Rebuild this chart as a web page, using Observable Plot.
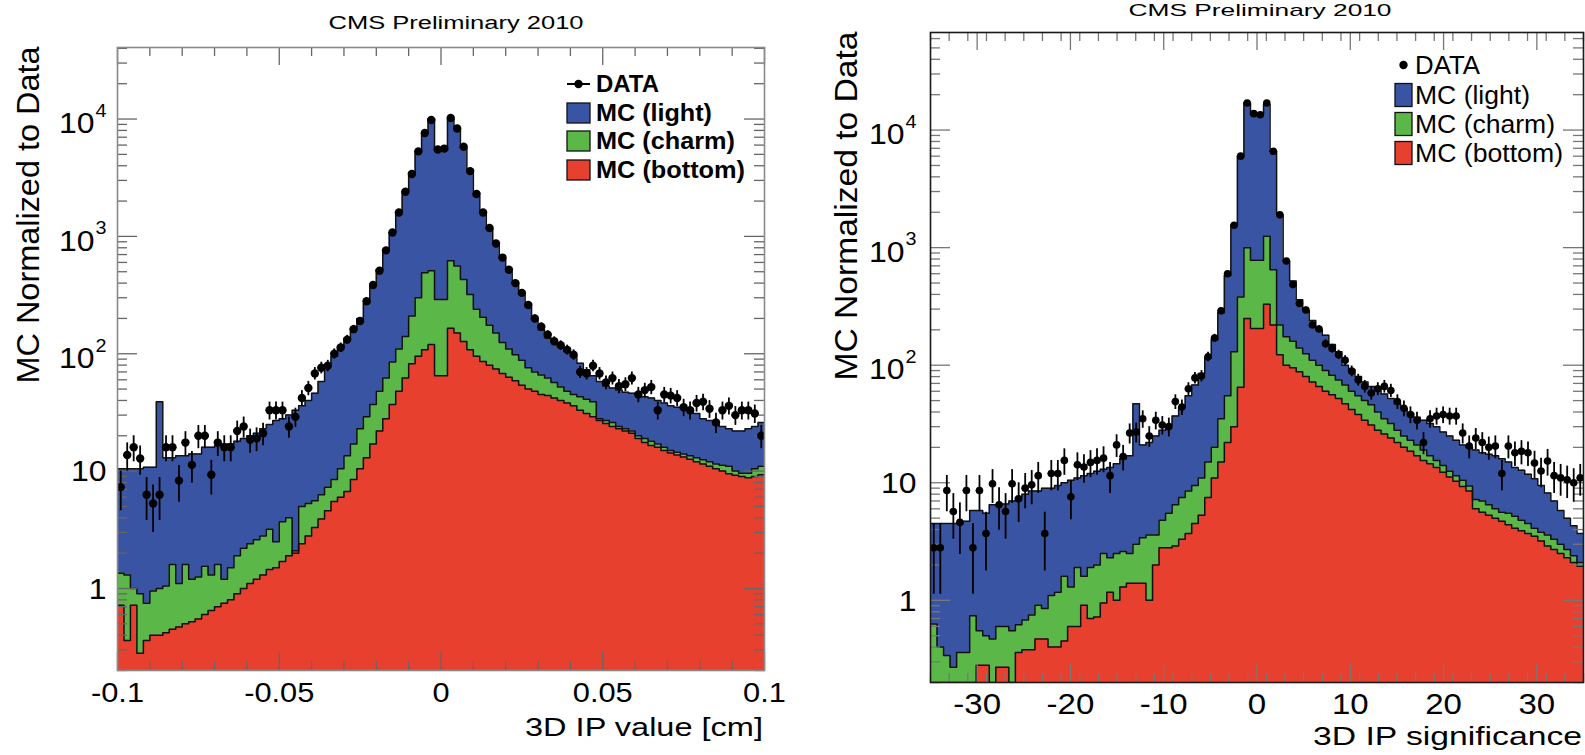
<!DOCTYPE html>
<html><head><meta charset="utf-8">
<script src="https://cdn.jsdelivr.net/npm/d3@7"></script>
<script src="https://cdn.jsdelivr.net/npm/@observablehq/plot@0.6"></script>
<style>
html,body{margin:0;padding:0;background:#fff;}
#root{position:relative;width:1585px;height:755px;overflow:hidden;font-family:"Liberation Sans",Arial,sans-serif;background:#fff;}
#root svg{position:absolute;top:0;}
</style></head><body><div id="root"></div>
<script>
// ---------- LEFT PANEL: 3D IP value [cm], 100 bins in [-0.1, 0.1] ----------
const leftRange = [-0.1, 0.1];
const leftBottom = [0.72,0.36,0.72,0.28,0.36,0.4,0.4,0.42,0.45,0.47,0.5,0.52,0.55,0.6,0.65,0.7,0.75,0.8,0.9,1.0,1.1,1.2,1.3,1.45,1.5,1.7,1.9,2.1,2.4,2.8,3.3,3.9,4.6,5.5,6.0,6.7,8.5,10.5,13,17,22,28,37,48,62,82,95,108,120,65,
65,165,150,127,108,95,86,80,74,68,63,59,54,50,48,45,44,42,40,38,36,33,31,29,27,25.5,24,23,22,21,19,17.5,16.5,16,15,14.3,13.7,13.2,12.6,12,11.5,11,10.5,10,9.5,9.2,9,8.8,9,9.3];
const leftCharm = [1.35,1.3,1.0,0.9,0.75,0.95,1.0,1.05,1.6,1.1,1.6,1.2,1.25,1.55,1.3,1.6,1.2,1.5,1.9,2.2,2.4,2.6,2.8,3.2,2.5,3.7,4.0,2.0,5.0,5.3,5.6,6.3,7.3,8.5,10.5,13.5,17,23,29,37,48,62,85,110,140,210,300,490,510,290,
290,620,560,430,320,240,205,175,150,125,110,98,88,76,70,66,62,57,52,48,45,43,41,39,28,27,26,24,23,22,20,19,18,17,16,15,14.5,14,13.5,13,12.5,12,11.5,11.2,11,10,9.6,9.6,10.5,11];
const leftLight = [10.5,10.5,10.5,10.5,10.8,10.8,39,13,13,13.5,13.5,14,14,16,16,16.5,17,17,18,19,20,21,23,25,27,28,30,33,36,40,46,58,78,95,115,135,165,200,270,380,520,750,1080,1600,2400,3500,5300,7600,10000,5400,
5400,10000,8200,5700,3700,2200,1600,1170,880,650,500,400,320,250,195,160,137,125,115,105,95,83,73,65,58,53,51,49,47,46,45,43,42,40,38,36,35,34,33,31,28,27,25,24,23,22,22,23,24,26];
const leftData = [7.3,13.7,16,12.8,6.3,5.3,6.3,16,16,8.3,17.5,11.3,20,20,9.3,17.5,16,16,22,24,18.5,19,21,33,33,33,24,29,42,51,68,76,79,100,113,132,162,190,280,385,510,760,1080,1600,2400,3400,5300,7600,9800,5500,
5600,10200,8300,5800,3600,2300,1600,1180,870,660,520,400,330,260,200,170,145,128,118,108,98,70,68,79,68,57,62,53,55,62,45,49,52,33,45,44,42,35,33,38,39,34,26,33,36,30,33,33,31,20];
const leftXTicks = [-0.1, -0.05, 0, 0.05, 0.1];
const leftXTickLabels = ["-0.1", "-0.05", "0", "0.05", "0.1"];

// ---------- RIGHT PANEL: 3D IP significance, 100 bins in [-35, 35] ----------
const rightRange = [-35, 35];
const rightBottom = [0.1,0.1,0.1,0.1,0.1,0.1,0.1,0.28,0.28,0.1,0.27,0.27,0.1,0.36,0.38,0.38,0.47,0.47,0.4,0.4,0.45,0.6,0.6,0.91,0.7,0.72,0.95,1.17,1.0,1.3,1.4,1.4,1.4,1.0,2.0,2.8,2.8,2.9,3.3,3.7,4.5,5.3,7.5,11,15,22,30,65,250,205,
205,330,220,123,100,95,88,80,72,66,60,56,52,47,42,38,34,31,28,26,24,22,20,18.5,17,15.5,14.5,13.5,12.3,11.2,10.3,9.3,8.5,6,5.6,5.3,5,4.7,4.4,4.1,3.9,3.7,3.5,3.2,2.9,2.7,2.5,2.3,2.1,1.95];
const rightCharm = [0.63,0.40,0.34,0.27,0.36,0.36,0.74,0.55,0.5,0.47,0.6,0.6,0.55,0.62,0.68,0.75,0.91,0.85,1.1,1.17,1.6,1.3,1.9,1.6,1.9,2.0,2.5,2.3,2.5,2.6,2.5,3.0,3.4,3.6,3.6,4.8,5.5,6.5,7.5,8.5,9.5,11,15,20,35,55,130,380,1000,780,
780,1250,650,220,175,160,140,125,110,100,90,82,75,68,60,55,50,46,40,35,32,28,25,23,21,19,17,15.5,14,12.5,11.5,10.5,9.4,7.2,7,6.5,6,5.6,5.5,5.2,4.8,4.5,4.1,3.8,3.6,3.3,3.0,2.7,2.4,2.1];
const rightLight = [4.5,4.5,4.5,4.5,4.5,4.7,5.8,5.8,5.5,6.5,6.5,6.6,7.0,7.5,8.0,8.5,8.5,9,9,9.5,10,10.5,11,11.5,12,12.5,13,13.5,14.5,16,17,47,21,22,25,28,31,37,44,55,68,85,115,165,280,580,1550,6000,17000,13500,
13500,16500,6600,1900,770,520,360,290,240,200,180,150,130,100,92,80,72,66,62,57,52,47,43,39,36,34,32,30,27,25,23,21,20,19,18,17.5,17,16,15,13.5,12.8,11.8,10.8,9.5,8.2,7,5.8,5,4.3,3.7];
const rightData = [2.8,2.8,8.6,5.7,4.6,8.6,2.8,8.6,3.7,9.8,6.5,5.7,9.8,7.3,9.0,9.6,11.5,3.7,12,12,15.5,7.6,14.2,13.6,14.9,15.5,16.2,11.5,21,16.7,26.5,27,35,25,34,31,30,49,44,63,78,81,118,170,290,600,1550,6000,17000,13800,
13500,17000,6600,1900,770,485,335,295,220,203,152,139,123,110,89,75,66,58,63,66,61,49,43,38,34,22,35,37,38,37,37,26.5,20.5,24,22,20,20.5,12,20.5,18,18.5,18,14.7,12.6,15.3,11.5,11,10.6,10,11];
const rightXTicks = [-30, -20, -10, 0, 10, 20, 30];
const rightXTickLabels = ["-30", "-20", "-10", "0", "10", "20", "30"];

const seriesNames = ["DATA", "MC (light)", "MC (charm)", "MC (bottom)"];
const colors = {light: "#3a54a4", charm: "#5bb848", bottom: "#e8402e"};
const yAxisTitle = "MC Normalized to Data";
const panelTitle = "CMS Preliminary 2010";

function panel(cfg) {
  const {range, bottom, charm, light, data, yDomain, width, height, mL, mR, mT, mB,
         xTicks, xTickLabels, xMinorStep, frameStroke, tickStroke, dotR, xFont, xDy, yFont,
         yPlainDx, yExpDx} = cfg;
  const n = light.length, w = (range[1] - range[0]) / n;
  const lo = yDomain[0], hi = yDomain[1];
  const cl = v => Math.min(Math.max(v, lo), hi);
  const steps = vals => vals.flatMap((v, i) => [{x: range[0] + i * w, y: cl(v)}, {x: range[0] + (i + 1) * w, y: cl(v)}]);
  const pts = data.map((v, i) => ({x: range[0] + (i + 0.5) * w, x1: range[0] + i * w, x2: range[0] + (i + 1) * w, v, e: Math.sqrt(v)}));
  const H = height - mT - mB, W = width - mL - mR;
  const xMinor = d3.range(range[0], range[1] + 1e-9, xMinorStep).filter(t => !xTicks.some(m => Math.abs(m - t) < 1e-9));
  const yMajor = [], yMinor = [];
  for (let k = -1; k <= 5; k++) for (let m = 1; m <= 9; m++) {
    const v = m * Math.pow(10, k);
    if (v >= lo * 0.999 && v <= hi) (m === 1 ? yMajor : yMinor).push(v);
  }
  const yPlain = yMajor.filter(v => v === 1 || v === 10);
  const yExp = yMajor.filter(v => v >= 100);
  const stepL = steps(light), stepC = steps(charm), stepB = steps(bottom);
  return Plot.plot({
    width, height, marginLeft: mL, marginRight: mR, marginTop: mT, marginBottom: mB,
    style: {background: "transparent", fontFamily: "'Liberation Sans', Arial, sans-serif", overflow: "visible", maxWidth: "none"},
    x: {domain: range, axis: null},
    y: {type: "log", domain: yDomain, axis: null},
    marks: [
      Plot.areaY(stepL, {x: "x", y1: () => lo, y2: "y", fill: colors.light, clip: true}),
      Plot.areaY(stepC, {x: "x", y1: () => lo, y2: "y", fill: colors.charm, clip: true}),
      Plot.areaY(stepB, {x: "x", y1: () => lo, y2: "y", fill: colors.bottom, clip: true}),
      Plot.line(stepL, {x: "x", y: "y", stroke: "#111", strokeWidth: 1.5, clip: true}),
      Plot.line(stepC, {x: "x", y: "y", stroke: "#111", strokeWidth: 1.5, clip: true}),
      Plot.line(stepB, {x: "x", y: "y", stroke: "#111", strokeWidth: 1.5, clip: true}),
      // ticks inside the frame
      Plot.tickX(xTicks, {x: d => d, insetTop: H - 18, stroke: tickStroke, strokeWidth: 1.3}),
      Plot.tickX(xTicks, {x: d => d, insetBottom: H - 18, stroke: tickStroke, strokeWidth: 1.3}),
      Plot.tickX(xMinor, {x: d => d, insetTop: H - 9, stroke: tickStroke, strokeWidth: 1.3}),
      Plot.tickX(xMinor, {x: d => d, insetBottom: H - 9, stroke: tickStroke, strokeWidth: 1.3}),
      Plot.tickY(yMajor, {y: d => d, insetRight: W - 20, stroke: tickStroke, strokeWidth: 1.3}),
      Plot.tickY(yMajor, {y: d => d, insetLeft: W - 20, stroke: tickStroke, strokeWidth: 1.3}),
      Plot.tickY(yMinor, {y: d => d, insetRight: W - 10, stroke: tickStroke, strokeWidth: 1.3}),
      Plot.tickY(yMinor, {y: d => d, insetLeft: W - 10, stroke: tickStroke, strokeWidth: 1.3}),
      // data with error bars
      Plot.ruleX(pts, {x: "x", y1: d => cl(d.v - d.e), y2: d => cl(d.v + d.e), stroke: "#000", strokeWidth: 1.8, clip: true}),
      Plot.ruleY(pts, {y: "v", x1: "x1", x2: "x2", stroke: "#000", strokeWidth: 1.3, clip: true}),
      Plot.dot(pts, {x: "x", y: "v", r: dotR, fill: "#000", stroke: "none", clip: true}),
      Plot.frame({stroke: frameStroke, strokeWidth: 1.6}),
      // tick labels
      Plot.text(xTicks, {x: d => d, text: (d, i) => xTickLabels[i], frameAnchor: "bottom", lineAnchor: "top", dy: xDy, fontSize: xFont, fill: "#000"}),
      Plot.text(yPlain, {y: d => d, text: d => String(d), frameAnchor: "left", textAnchor: "end", dx: yPlainDx, dy: 1, fontSize: yFont, fill: "#000"}),
      Plot.text(yExp, {y: d => d, text: () => "10", frameAnchor: "left", textAnchor: "end", dx: yExpDx, dy: 5, fontSize: yFont, fill: "#000"}),
      Plot.text(yExp, {y: d => d, text: d => String(Math.round(Math.log10(d))), frameAnchor: "left", textAnchor: "start", dx: yExpDx + 1, dy: -8, fontSize: 18, fill: "#000"})
    ]
  });
}

const root = document.getElementById("root");
const left = panel({range: leftRange, bottom: leftBottom, charm: leftCharm, light: leftLight, data: leftData,
  yDomain: [0.2, 40700], width: 800, height: 755, mL: 117, mR: 36, mT: 47, mB: 85,
  xTicks: leftXTicks, xTickLabels: leftXTickLabels, xMinorStep: 0.01, frameStroke: "#8a8a8a", tickStroke: "#666",
  dotR: 4.2, xFont: 28, xDy: 12, yFont: 29, yPlainDx: -11, yExpDx: -23});
left.style.left = "0px";
root.appendChild(left);
const right = panel({range: rightRange, bottom: rightBottom, charm: rightCharm, light: rightLight, data: rightData,
  yDomain: [0.2, 67600], width: 795, height: 755, mL: 140, mR: 2, mT: 32, mB: 73,
  xTicks: rightXTicks, xTickLabels: rightXTickLabels, xMinorStep: 2, frameStroke: "#1a1a1a", tickStroke: "#777",
  dotR: 3.8, xFont: 30, xDy: 10, yFont: 29, yPlainDx: -14, yExpDx: -26});
right.style.left = "790px";
root.appendChild(right);

// slight horizontal stretch of tick labels (reference text is wide)
for (const svg of [left, right]) {
  svg.querySelectorAll("text").forEach(t => {
    const L = t.getComputedTextLength();
    if (L > 0) { t.setAttribute("textLength", (L * 1.1).toFixed(1)); t.setAttribute("lengthAdjust", "spacingAndGlyphs"); }
  });
}

// overlay: titles, axis titles, legends
const ov = d3.select(root).append("svg").attr("width", 1585).attr("height", 755)
  .style("left", "0px").style("pointer-events", "none")
  .style("font-family", "'Liberation Sans', Arial, sans-serif");
function txt(x, y, s, size, len, anchor, weight, rot) {
  const t = ov.append("text").attr("font-size", size).attr("text-anchor", anchor || "start")
    .attr("font-weight", weight || "normal").attr("fill", "#000").text(s);
  if (rot) t.attr("transform", `translate(${x},${y}) rotate(-90)`); else t.attr("x", x).attr("y", y);
  if (len) t.attr("textLength", len).attr("lengthAdjust", "spacingAndGlyphs");
  return t;
}
txt(456, 29, panelTitle, 18, 255, "middle");
txt(1260, 16, panelTitle, 17, 263, "middle");
txt(763, 736, "3D IP value [cm]", 25, 238, "end");
txt(1582, 745, "3D IP significance", 26, 269, "end");
txt(39, 215, yAxisTitle, 32, 337, "middle", "normal", true);
txt(857, 206, yAxisTitle, 32, 349, "middle", "normal", true);

function legend(o) {
  const fills = [null, colors.light, colors.charm, colors.bottom];
  o.rows.forEach((y, i) => {
    if (i === 0) {
      if (o.line) ov.append("line").attr("x1", o.bx).attr("x2", o.bx + o.bw).attr("y1", y).attr("y2", y).attr("stroke", "#000").attr("stroke-width", 2);
      ov.append("circle").attr("cx", o.bx + o.bw / 2).attr("cy", y).attr("r", 4.2).attr("fill", "#000");
    } else {
      ov.append("rect").attr("x", o.bx).attr("y", y - o.bh / 2).attr("width", o.bw).attr("height", o.bh)
        .attr("fill", fills[i]).attr("stroke", "#111").attr("stroke-width", 1.3);
    }
    txt(o.tx, y + o.size * 0.36, seriesNames[i], o.size, o.lens[i], "start", o.weight);
  });
}
legend({rows: [84, 113, 141, 170], bx: 567, bw: 23, bh: 20, tx: 596, size: 23, weight: "bold", line: true, lens: [63, 116, 139, 149]});
legend({rows: [65, 95, 124, 153], bx: 1395, bw: 17, bh: 23, tx: 1415, size: 25, weight: "normal", line: false, lens: [65, 115, 140, 148]});
</script>
</body></html>
